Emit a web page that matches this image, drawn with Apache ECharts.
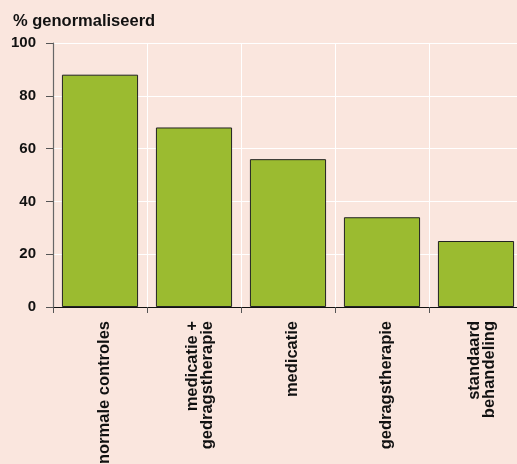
<!DOCTYPE html>
<html>
<head>
<meta charset="utf-8">
<script src="https://cdn.jsdelivr.net/npm/echarts@6/dist/echarts.min.js"></script>
<style>
  html, body { margin: 0; padding: 0; background: #fae6de; }
  #chart { width: 517px; height: 464px; }
</style>
</head>
<body>
<div id="chart"></div>
<script>
// categorieën en waarden (% genormaliseerd)
const categories = ['normale controles', 'medicatie +\ngedragstherapie', 'medicatie', 'gedragstherapie', 'standaard\nbehandeling'];
const values = [88, 68, 56, 34, 25];
const yTicks = [0, 20, 40, 60, 80, 100];

const font = '"Liberation Sans", Arial, Helvetica, sans-serif';

const chart = echarts.init(document.getElementById('chart'));
chart.setOption({
  backgroundColor: '#fae6de',
  animation: false,
  title: {
    text: '% genormaliseerd',
    left: 8,
    top: 8,
    textStyle: { fontFamily: font, fontWeight: 'bold', fontSize: 16.5, color: '#111' }
  },
  // de laatste categorie loopt iets buiten het beeld door
  grid: { left: 53, top: 43, right: -6, bottom: 157, outerBoundsMode: 'none' },
  xAxis: {
    type: 'category',
    data: categories,
    axisLine: { lineStyle: { color: '#111', width: 1.2 } },
    axisTick: { show: true, length: 6, lineStyle: { color: '#555' } },
    splitLine: { show: true, lineStyle: { color: '#ffffff', width: 1 } },
    axisLabel: {
      rotate: 90,
      margin: 14,
      interval: 0,
      fontFamily: font,
      fontWeight: 'bold',
      fontSize: 16.5,
      lineHeight: 19,
      color: '#111',
      padding: [8, 0, 0, 0],
      // eerste regel van tweeregelige labels iets verder naar rechts
      formatter: v => {
        const lines = v.split('\n');
        return lines.length > 1
          ? '{f|' + lines[0] + '}\n{n|' + lines.slice(1).join('\n') + '}'
          : '{n|' + v + '}';
      },
      rich: {
        f: { fontFamily: font, fontWeight: 'bold', fontSize: 16.5, lineHeight: 19, color: '#111', padding: [8, 0, 0, 0] },
        n: { fontFamily: font, fontWeight: 'bold', fontSize: 16.5, lineHeight: 19, color: '#111' }
      }
    }
  },
  yAxis: {
    type: 'value',
    min: yTicks[0],
    max: yTicks[yTicks.length - 1],
    interval: 20,
    axisLine: { show: true, lineStyle: { color: '#666', width: 1.2 } },
    axisTick: { show: true, length: 7, lineStyle: { color: '#555' } },
    splitLine: { show: true, lineStyle: { color: '#ffffff', width: 1 } },
    axisLabel: {
      margin: 17,
      fontFamily: font,
      fontWeight: 'bold',
      fontSize: 15,
      color: '#111'
    }
  },
  series: [{
    type: 'bar',
    data: values,
    barCategoryGap: '19%',
    itemStyle: { color: '#9bbb30', borderColor: '#222', borderWidth: 1 }
  }]
});
</script>
</body>
</html>
